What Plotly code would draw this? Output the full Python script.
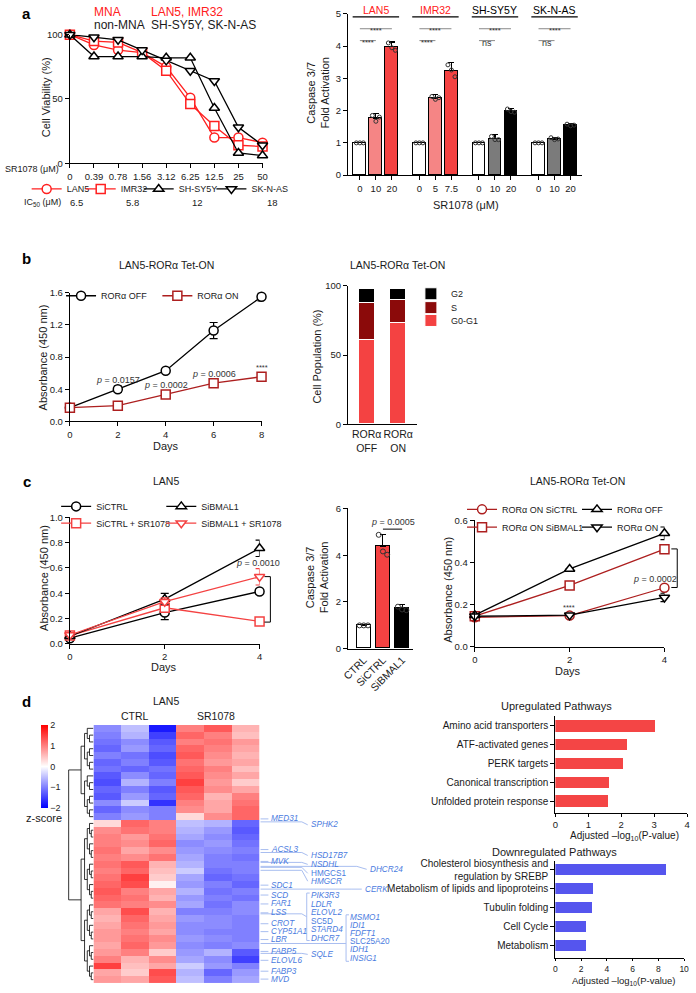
import plotly.graph_objects as go

W, H = 696, 993
FONT = "Liberation Sans, Arial, Helvetica, sans-serif"
TXT = "#1a1a1a"
RED = "#f44242"
LRED = "#f58585"
MNA_RED = "#ff2020"
DRED = "#ad1f1f"
SDARK = "#8b0a0a"
GREY = "#7b7b7b"
UP_RED = "#f44545"
DOWN_BLUE = "#5555ee"
GENE_BLUE = "#4a7be0"
LEAD_BLUE = "#a9bef0"

# ------------------------------------------------------------------ data
# a (left): cell viability
conc_labels = ["0", "0.39", "0.78", "1.56", "3.12", "6.25", "12.5", "25", "50"]
via_lan5 = [100, 92, 88, 86, 75, 51, 20, 20, 16]
via_imr32 = [100, 95, 94, 86, 72, 46, 29, 14, 13]
via_shsy5y = [100, 83, 83, 83, 82, 82, 43, 8, 6]
via_sknas = [100, 98, 96, 88, 80, 72, 64, 28, 14]
cell_lines = ["LAN5", "IMR32", "SH-SY5Y", "SK-N-AS"]
ic50_values = ["6.5", "5.8", "12", "18"]

# a (right): caspase 3/7
casp_groups = ["LAN5", "IMR32", "SH-SY5Y", "SK-N-AS"]
casp_doses = [["0", "10", "20"], ["0", "5", "7.5"], ["0", "10", "20"], ["0", "10", "20"]]
casp_mean = [[1.0, 1.77, 3.98], [1.0, 2.39, 3.24], [1.0, 1.13, 1.98], [1.0, 1.12, 1.55]]
casp_err = [[0, 0.15, 0.15], [0, 0.10, 0.24], [0, 0.12, 0.10], [0, 0.05, 0.05]]
casp_reps = [[[1, 1, 1], [1.85, 1.67, 1.80], [4.10, 3.95, 3.87]],
             [[1, 1, 1], [2.44, 2.35, 2.40], [3.42, 3.26, 3.05]],
             [[1, 1, 1], [1.20, 1.10, 1.10], [2.05, 1.97, 1.95]],
             [[1, 1, 1], [1.16, 1.10, 1.12], [1.58, 1.53, 1.55]]]
sig_top = ["****", "****", "****", "****"]
sig_low = ["****", "****", "ns", "ns"]

# b (left): growth
days_b = [0, 2, 4, 6, 8]
abs_off = [0.17, 0.40, 0.63, 1.13, 1.55]
abs_off_err = [0.02, 0.04, 0.02, 0.10, 0.05]
abs_on = [0.17, 0.195, 0.335, 0.475, 0.555]
abs_on_err = [0.02, 0.04, 0.02, 0.02, 0.04]
pvals_b = ["<i>p</i> = 0.0157", "<i>p</i> = 0.0002", "<i>p</i> = 0.0006", "****"]

# b (right): cell cycle
cc_groups = ["ROR\u03b1<br>OFF", "ROR\u03b1<br>ON"]
cc_g0g1 = [61, 73]
cc_s = [27, 17]
cc_g2 = [10, 8]

# c (left)
days_c = [0, 2, 4]
si_ctrl = [0.045, 0.247, 0.414]
si_ctrl_err = [0.01, 0.055, 0.02]
si_ctrl_sr = [0.065, 0.285, 0.177]
si_ctrl_sr_err = [0.01, 0.03, 0.01]
si_bmal = [0.06, 0.354, 0.755]
si_bmal_err = [0.01, 0.045, 0.065]
si_bmal_sr = [0.07, 0.333, 0.53]
si_bmal_sr_err = [0.01, 0.03, 0.065]

# c (middle)
casp_c_labels = ["CTRL", "SiCTRL", "SiBMAL1"]
casp_c = [1.0, 4.37, 1.71]
casp_c_err = [0.0, 0.5, 0.18]
casp_c_reps = [[1, 1, 1], [4.87, 4.16, 4.02], [1.80, 1.68, 1.65]]

# c (right)
ron_sictrl = [0.14, 0.148, 0.28]
ron_sibmal = [0.145, 0.291, 0.463]
roff = [0.15, 0.369, 0.538]
roff_err = [0.0, 0.0, 0.03]
ron = [0.145, 0.15, 0.234]
ron_err = [0.0, 0.0, 0.02]

# d heatmap (z-scores, rows top->bottom; columns CTRL x3, SR1078 x3)
heat_cols = ["CTRL 1", "CTRL 2", "CTRL 3", "SR1078 1", "SR1078 2", "SR1078 3"]
heat_z = [
    [-0.9, -0.5, -1.8, 1.0, 1.3, 0.6],
    [-1.0, -0.6, -1.5, 1.2, 1.0, 0.5],
    [-1.1, -0.9, -1.3, 1.0, 1.1, 0.8],
    [-1.2, -0.8, -1.2, 1.2, 1.0, 0.7],
    [-1.0, -1.1, -1.4, 1.3, 0.9, 0.6],
    [-1.2, -1.0, -1.3, 1.1, 0.8, 0.7],
    [-1.1, -1.2, -1.1, 1.2, 1.0, 0.5],
    [-1.3, -0.9, -1.2, 1.3, 0.9, 0.7],
    [-1.4, -0.6, -1.0, 1.5, 0.8, 0.4],
    [-1.2, -1.0, -1.3, 1.3, 0.9, 0.7],
    [-1.3, -0.8, -1.2, 1.2, 0.6, 1.0],
    [-0.9, -0.4, -1.6, 1.0, 0.7, 1.1],
    [-1.2, -0.9, -1.0, 0.9, 0.7, 1.2],
    [-1.0, -0.8, -1.0, 0.3, 0.9, 1.2],
    [0.3, 1.2, 1.0, -0.5, -0.6, -1.2],
    [0.9, 1.1, 1.0, -0.6, -0.8, -1.3],
    [1.0, 0.8, 1.1, -0.7, -0.9, -1.2],
    [1.0, 0.9, 1.2, -0.9, -0.8, -1.1],
    [1.1, 0.7, 0.9, -0.8, -0.9, -1.0],
    [1.0, 0.9, 1.1, -0.7, -1.0, -1.1],
    [1.1, 1.3, 0.6, -0.6, -1.0, -1.0],
    [1.0, 1.2, 0.5, -0.4, -1.1, -1.0],
    [1.1, 1.5, 0.4, -0.7, -1.2, -1.1],
    [1.2, 1.4, 0.1, -0.8, -1.0, -1.2],
    [1.3, 1.0, 0.7, -0.6, -1.1, -1.0],
    [1.2, 1.1, 0.6, -0.8, -1.0, -1.1],
    [1.1, 1.0, 0.9, -0.7, -1.1, -0.9],
    [0.7, 1.4, 0.6, -1.0, -1.0, -0.9],
    [0.6, 1.2, 0.7, -0.8, -0.9, -1.0],
    [0.7, 1.1, 0.8, -0.9, -0.9, -1.0],
    [0.8, 1.0, 0.7, -0.9, -1.0, -1.0],
    [0.8, 1.1, 0.9, -0.8, -0.9, -1.0],
    [0.7, 1.2, 0.8, -0.9, -1.0, -0.9],
    [0.8, 1.0, 0.4, -0.8, -0.6, -1.3],
    [1.0, 0.6, 0.9, -0.7, -0.9, -1.5],
    [1.5, 0.5, 0.7, -0.4, -0.8, -1.0],
    [0.7, 0.4, 1.4, -0.6, -1.2, -0.8],
    [0.8, 0.7, 1.3, -0.5, -1.0, -0.7],
]
TOP_N = 14
dendro_heights = [1.0, 0.5, 0.36, 0.25, 0.16, 0.09, 0.04, 0.02]

gene_col1 = ["MED31", "ACSL3", "MVK", "SDC1", "SCD", "FAR1", "LSS", "CROT", "CYP51A1", "LBR",
             "FABP5", "ELOVL6", "FABP3", "MVD"]
gene_col2 = ["SPHK2", "HSD17B7", "NSDHL", "HMGCS1", "HMGCR", "PIK3R3", "LDLR", "ELOVL2", "SC5D",
             "STARD4", "DHCR7", "SQLE"]
gene_col3 = ["DHCR24", "CERK", "MSMO1", "IDI1", "FDFT1", "SLC25A20", "IDH1", "INSIG1"]
upright_genes = {"HMGCS1", "SC5D", "SLC25A20"}

up_paths = ["Amino acid transporters", "ATF-activated genes", "PERK targets",
            "Canonical transcription", "Unfolded protein response"]
up_vals = [3.03, 2.2, 2.07, 1.64, 1.61]
down_paths = ["Cholesterol biosynthesis and<br>regulation by SREBP",
              "Metabolism of lipids and lipoproteins", "Tubulin folding", "Cell Cycle", "Metabolism"]
down_vals = [8.65, 2.95, 2.85, 2.44, 2.44]

# ------------------------------------------------------------------ layout positions (px)
gene_col1_y = [822, 853, 865, 889, 899, 908, 917, 928, 936, 944, 956, 965, 976, 984]
gene_col2_y = [828, 859, 868, 877, 885, 899.5, 908.5, 917, 925.5, 934, 942.5, 959]
gene_col2_src = {"SPHK2": 825, "HSD17B7": 856, "NSDHL": 866, "HMGCS1": 871, "HMGCR": 874, "SQLE": 958}
gene_col3_x = [368, 363, 348, 348, 348, 348, 348, 348]
gene_col3_y = [873, 893, 922, 930, 938, 946, 954, 963]
gene_col3_src = {"DHCR24": 870, "CERK": 893}


def dx(x0, x1):
    return [x0 / W, x1 / W]


def dy(y0, y1):
    return [1 - y1 / H, 1 - y0 / H]


fig = go.Figure()
annotations = []
shapes = []
legends = {}


def ann(x, y, text, size=10, color=TXT, xanchor="center", yanchor="middle", angle=0,
        xref="paper", yref="paper", pad=1):
    if xref == "paper":
        x = x / W
    if yref == "paper":
        y = 1 - y / H
    annotations.append(dict(x=x, y=y, xref=xref, yref=yref, text=text, showarrow=False,
                            xanchor=xanchor, yanchor=yanchor, textangle=angle, borderpad=pad,
                            font=dict(size=size, color=color, family=FONT)))


def line_px(x0, y0, x1, y1, color="black", width=1.0):
    shapes.append(dict(type="line", xref="paper", yref="paper", x0=x0 / W, y0=1 - y0 / H,
                       x1=x1 / W, y1=1 - y1 / H, line=dict(color=color, width=width)))


def path_px(pts, color, width=1.0):
    d = "M" + " L".join(f"{x / W:.5f},{1 - y / H:.5f}" for x, y in pts)
    shapes.append(dict(type="path", xref="paper", yref="paper", path=d,
                       line=dict(color=color, width=width)))


def leg(key, marker_x, y):
    legends[key] = dict(x=(marker_x - 25) / W, y=1 - y / H, xanchor="left", yanchor="middle",
                        orientation="h", bgcolor="rgba(0,0,0,0)", borderwidth=0, itemwidth=30,
                        font=dict(size=9, family=FONT, color=TXT),
                        itemclick=False, itemdoubleclick=False)


def axis(dom, rng, anchor, **kw):
    d = dict(domain=dom, range=rng, anchor=anchor, showline=True, linecolor="black",
             linewidth=1.2, ticks="outside", ticklen=4, tickwidth=1.2, tickcolor="black",
             showgrid=False, zeroline=False, fixedrange=True,
             tickfont=dict(size=9.5, family=FONT, color=TXT))
    d.update(kw)
    return d


def mk(symbol, color, size=9):
    return dict(symbol=symbol, color="white", size=size, line=dict(color=color, width=1.5))


# ------------------------------------------------------------------ panel a left
a_series = [(via_lan5, "circle", MNA_RED), (via_imr32, "square", MNA_RED),
            (via_shsy5y, "triangle-up", "black"), (via_sknas, "triangle-down", "black")]
a_leg_x = [45, 100, 159, 233]
for i, (vals, sym, col) in enumerate(a_series):
    key = "legend" if i == 0 else f"legend{i + 1}"
    fig.add_trace(go.Scatter(x=list(range(len(conc_labels))), y=vals, name=cell_lines[i],
                             mode="lines+markers", line=dict(color=col, width=1.3),
                             marker=mk(sym, col), cliponaxis=False, xaxis="x", yaxis="y",
                             legend=key, hoverinfo="skip"))
    leg(key, a_leg_x[i], 185)

ann(54, 165, "SR1078 (\u03bcM)", size=9, xanchor="right", pad=0)
ann(57, 199, "IC<sub>50</sub> (\u03bcM)", size=9, xanchor="right")
ic50_x = [71, 128, 194, 270]
for v, xp in zip(ic50_values, ic50_x):
    ann(xp, 199, v, size=9.5)
ann(40, 92, "Cell Viability (%)", size=11, angle=-90)
ann(86, 6, "MNA", size=12, color=MNA_RED, xanchor="left")
ann(144, 6, "LAN5, IMR32", size=12, color=MNA_RED, xanchor="left")
ann(86, 19, "non-MNA", size=12, xanchor="left")
ann(144, 19, "SH-SY5Y, SK-N-AS", size=12, xanchor="left")

# ------------------------------------------------------------------ panel a right
GROUP_STEP = 3.72
a_pos, a_lab, a_val, a_err, a_col = [], [], [], [], []
group_colors = [["white", LRED, RED], ["white", LRED, RED],
                ["white", GREY, "black"], ["white", GREY, "black"]]
for g in range(4):
    for j in range(3):
        a_pos.append(g * GROUP_STEP + j)
        a_lab.append(casp_doses[g][j])
        a_val.append(casp_mean[g][j])
        a_err.append(casp_err[g][j])
        a_col.append(group_colors[g][j])
fig.add_trace(go.Bar(x=a_pos, y=a_val, width=0.8, marker=dict(color=a_col, line=dict(color="black", width=1.1)),
                     error_y=dict(type="data", array=a_err, arrayminus=[0] * len(a_err), symmetric=False,
                                  color="black", thickness=1.1, width=3),
                     xaxis="x2", yaxis="y2", showlegend=False, hoverinfo="skip"))
rx, ry = [], []
for g in range(4):
    for j in range(3):
        for k, v in enumerate(casp_reps[g][j]):
            rx.append(g * GROUP_STEP + j + (k - 1) * 0.22)
            ry.append(v)
fig.add_trace(go.Scatter(x=rx, y=ry, mode="markers",
                         marker=dict(symbol="circle-open", size=4, color="#333", line=dict(width=1)),
                         xaxis="x2", yaxis="y2", showlegend=False, hoverinfo="skip", cliponaxis=False))
for g in range(4):
    p0 = g * GROUP_STEP
    col = MNA_RED if g < 2 else "black"
    annotations.append(dict(x=p0 + 1, y=1 - 4 / H, xref="x2", yref="paper", text=casp_groups[g],
                            showarrow=False, font=dict(size=10.5, color=col, family=FONT), yanchor="middle"))
    shapes.append(dict(type="line", xref="x2", yref="paper", x0=p0 - 0.45, x1=p0 + 2.45,
                       y0=1 - 11 / H, y1=1 - 11 / H, line=dict(color="black", width=1.3)))
    shapes.append(dict(type="line", xref="x2", yref="paper", x0=p0, x1=p0 + 2,
                       y0=1 - 23 / H, y1=1 - 23 / H, line=dict(color="#888", width=1)))
    shapes.append(dict(type="line", xref="x2", yref="paper", x0=p0, x1=p0 + 1,
                       y0=1 - 35 / H, y1=1 - 35 / H, line=dict(color="#888", width=1)))
    annotations.append(dict(x=p0 + 1, y=1 - 18 / H, xref="x2", yref="paper", text=sig_top[g],
                            showarrow=False, font=dict(size=7.5, color="#333", family=FONT)))
    annotations.append(dict(x=p0 + 0.5, y=1 - 30 / H, xref="x2", yref="paper", text=sig_low[g],
                            showarrow=False, font=dict(size=7.5 if sig_low[g] == "****" else 9,
                                                       color="#333", family=FONT)))
ann(316, 88, "Caspase 3/7<br>Fold Activation", size=11, angle=-90)
ann(467, 201, "SR1078 (\u03bcM)", size=11)

# ------------------------------------------------------------------ panel b left
fig.add_trace(go.Scatter(x=days_b, y=abs_off, name="ROR\u03b1 OFF", mode="lines+markers",
                         line=dict(color="black", width=1.3), marker=mk("circle", "black"),
                         error_y=dict(type="data", array=abs_off_err, color="black", thickness=1.2, width=4),
                         xaxis="x3", yaxis="y3", legend="legend5", cliponaxis=False, hoverinfo="skip"))
fig.add_trace(go.Scatter(x=days_b, y=abs_on, name="ROR\u03b1 ON", mode="lines+markers",
                         line=dict(color=DRED, width=1.3), marker=mk("square", DRED),
                         error_y=dict(type="data", array=abs_on_err, color=DRED, thickness=1.2, width=4),
                         xaxis="x3", yaxis="y3", legend="legend6", cliponaxis=False, hoverinfo="skip"))
leg("legend5", 80, 293)
leg("legend6", 178, 293)
ann(113, 378, pvals_b[0], size=9, color="#333")
ann(162, 383, pvals_b[1], size=9, color="#333")
ann(211, 372, pvals_b[2], size=9, color="#333")
ann(259, 366, pvals_b[3], size=7.5, color="#333")
ann(162, 262, "LAN5-ROR\u03b1 Tet-ON", size=10.5)
ann(37, 355, "Absorbance (450 nm)", size=11, angle=-90)
ann(162, 445, "Days", size=11)

# ------------------------------------------------------------------ panel b right
for vals, nm, col, key, yy in [(cc_g0g1, "G0-G1", RED, "legend9", 318),
                               (cc_s, "S", SDARK, "legend8", 305),
                               (cc_g2, "G2", "black", "legend7", 291)]:
    fig.add_trace(go.Bar(x=[0, 1], y=vals, name=nm, width=0.5,
                         marker=dict(color=col, line=dict(color="white", width=1)),
                         xaxis="x4", yaxis="y4", legend=key, hoverinfo="skip"))
    leg(key, 436, yy)
ann(397, 262, "LAN5-ROR\u03b1 Tet-ON", size=10.5)
ann(316, 355, "Cell Population (%)", size=11, angle=-90)

# ------------------------------------------------------------------ panel c left
c_series = [(si_ctrl, si_ctrl_err, "SiCTRL", "circle", "black", "legend10", 75, 506),
            (si_ctrl_sr, si_ctrl_sr_err, "SiCTRL + SR1078", "square", RED, "legend11", 75, 523),
            (si_bmal, si_bmal_err, "SiBMAL1", "triangle-up", "black", "legend12", 182, 506),
            (si_bmal_sr, si_bmal_sr_err, "SiBMAL1 + SR1078", "triangle-down", RED, "legend13", 182, 523)]
for vals, err, nm, sym, col, key, lx, ly in c_series:
    fig.add_trace(go.Scatter(x=days_c, y=vals, name=nm, mode="lines+markers",
                             line=dict(color=col, width=1.3), marker=mk(sym, col),
                             error_y=dict(type="data", array=err, color=col, thickness=1.2, width=4),
                             xaxis="x5", yaxis="y5", legend=key, cliponaxis=False, hoverinfo="skip"))
    leg(key, lx, ly)
ann(162, 480, "LAN5", size=10.5)
ann(37, 578, "Absorbance (450 nm)", size=11, angle=-90)
ann(160, 668, "Days", size=11)
ann(255, 563, "<i>p</i> = 0.0010", size=9, color="#333")
path_px([(262, 577), (268, 577), (268, 623), (262, 623)], "black", 1)

# ------------------------------------------------------------------ panel c middle
fig.add_trace(go.Bar(x=[0, 1, 2], y=casp_c, width=0.75,
                     marker=dict(color=["white", RED, "black"], line=dict(color="black", width=1.1)),
                     error_y=dict(type="data", array=casp_c_err, arrayminus=[0, 0, 0], symmetric=False,
                                  color="black", thickness=1.1, width=3),
                     xaxis="x6", yaxis="y6", showlegend=False, hoverinfo="skip"))
cx, cy = [], []
for i, reps in enumerate(casp_c_reps):
    for k, v in enumerate(reps):
        cx.append(i + (k - 1) * 0.22)
        cy.append(v)
fig.add_trace(go.Scatter(x=cx, y=cy, mode="markers",
                         marker=dict(symbol="circle-open", size=5, color="#333", line=dict(width=1)),
                         xaxis="x6", yaxis="y6", showlegend=False, hoverinfo="skip", cliponaxis=False))
annotations.append(dict(x=1.5, y=1 - 522 / H, xref="x6", yref="paper", text="<i>p</i> = 0.0005",
                        showarrow=False, font=dict(size=9, color="#333", family=FONT)))
shapes.append(dict(type="line", xref="x6", yref="paper", x0=1, x1=2, y0=1 - 529 / H, y1=1 - 529 / H,
                   line=dict(color="black", width=1)))
ann(315, 578, "Caspase 3/7<br>Fold Activation", size=11, angle=-90)

# ------------------------------------------------------------------ panel c right
cr_series = [(ron_sictrl, None, "ROR\u03b1 ON SiCTRL", "circle", DRED, "legend14", 488, 509),
             (ron_sibmal, None, "ROR\u03b1 ON SiBMAL1", "square", DRED, "legend15", 488, 527),
             (roff, roff_err, "ROR\u03b1 OFF", "triangle-up", "black", "legend16", 605, 509),
             (ron, ron_err, "ROR\u03b1 ON", "triangle-down", "black", "legend17", 605, 527)]
for vals, err, nm, sym, col, key, lx, ly in cr_series:
    tr = go.Scatter(x=days_c, y=vals, name=nm, mode="lines+markers",
                    line=dict(color=col, width=1.3), marker=mk(sym, col),
                    xaxis="x7", yaxis="y7", legend=key, cliponaxis=False, hoverinfo="skip")
    if err is not None:
        tr.error_y = dict(type="data", array=err, color=col, thickness=1.2, width=4)
    fig.add_trace(tr)
    leg(key, lx, ly)
ann(580, 480, "LAN5-ROR\u03b1 Tet-ON", size=10.5)
ann(449, 590, "Absorbance (450 nm)", size=11, angle=-90)
ann(571, 672, "Days", size=11)
ann(572, 608, "****", size=7.5, color="#333")
ann(659, 579, "<i>p</i> = 0.0002", size=9, color="#333")
path_px([(676, 549), (682, 549), (682, 588), (676, 588)], "black", 1)

# ------------------------------------------------------------------ panel d heatmap
n_rows = len(heat_z)
fig.add_trace(go.Heatmap(z=heat_z, x=list(range(len(heat_cols))), y=list(range(n_rows)),
                         zmin=-2, zmax=2,
                         colorscale=[[0, "#0000ff"], [0.5, "#ffffff"], [1, "#ff0000"]],
                         xaxis="x8", yaxis="y8", hoverinfo="skip",
                         colorbar=dict(x=35 / W, xanchor="left", y=1 - 727 / H, yanchor="top",
                                       len=84 / H, lenmode="fraction", thickness=7, thicknessmode="pixels",
                                       tickvals=[-2, -1, 0, 1, 2], ticks="", outlinewidth=0,
                                       xpad=0, ypad=0, tickfont=dict(size=9, family=FONT, color=TXT))))

dxs, dys = [], []


def build_dendro(lo, hi, depth):
    if hi - lo == 1:
        return lo, 0.0
    mid = TOP_N if depth == 0 else (lo + hi) // 2
    c1, h1 = build_dendro(lo, mid, depth + 1)
    c2, h2 = build_dendro(mid, hi, depth + 1)
    h = dendro_heights[depth]
    dxs.extend([h1, h, h, h2, None])
    dys.extend([c1, c1, c2, c2, None])
    return (c1 + c2) / 2, h


build_dendro(0, n_rows, 0)
fig.add_trace(go.Scatter(x=dxs, y=dys, mode="lines", line=dict(color="black", width=0.8),
                         xaxis="x9", yaxis="y9", showlegend=False, hoverinfo="skip", cliponaxis=False))

ann(20, 703, "<b>d</b>", size=15, color="black")
ann(162, 703, "LAN5", size=10.5)
ann(130, 718, "CTRL", size=10.5)
ann(213, 718, "SR1078", size=10.5)
ann(38, 821, "z-score", size=11)

GSIZE = 8.2
HM_R = 258
for name, yy in zip(gene_col1, gene_col1_y):
    line_px(HM_R, yy, 266, yy, LEAD_BLUE, 1)
    t = name if name in upright_genes else f"<i>{name}</i>"
    ann(268, yy, t, size=GSIZE, color=GENE_BLUE, xanchor="left", pad=0)
for name, yy in zip(gene_col2, gene_col2_y):
    if name in gene_col2_src:
        s = gene_col2_src[name]
        path_px([(HM_R, s), (300, s), (306, yy)], LEAD_BLUE, 1)
    t = name if name in upright_genes else f"<i>{name}</i>"
    ann(308, yy, t, size=GSIZE, color=GENE_BLUE, xanchor="left", pad=0)
for name, xx, yy in zip(gene_col3, gene_col3_x, gene_col3_y):
    if name in gene_col3_src:
        s = gene_col3_src[name]
        path_px([(HM_R, s), (xx - 12, s), (xx - 2, yy)], LEAD_BLUE, 1)
    t = name if name in upright_genes else f"<i>{name}</i>"
    ann(xx, yy, t, size=GSIZE, color=GENE_BLUE, xanchor="left", pad=0)
# brackets for gene groups
path_px([(HM_R, 918), (300, 918), (305, 921)], LEAD_BLUE, 1)
path_px([(308, 897), (305, 897), (305, 945), (308, 945)], LEAD_BLUE, 1)
line_px(HM_R, 948, 345, 948, LEAD_BLUE, 1)
path_px([(348, 919), (345, 919), (345, 966), (348, 966)], LEAD_BLUE, 1)

# ------------------------------------------------------------------ panel d bars
fig.add_trace(go.Bar(x=up_vals, y=up_paths, orientation="h", width=0.6,
                     marker=dict(color=UP_RED, line=dict(width=0)),
                     xaxis="x10", yaxis="y10", showlegend=False, hoverinfo="skip"))
fig.add_trace(go.Bar(x=down_vals, y=down_paths, orientation="h", width=0.62,
                     marker=dict(color=DOWN_BLUE, line=dict(width=0)),
                     xaxis="x11", yaxis="y11", showlegend=False, hoverinfo="skip"))
ann(559, 708, "Upregulated Pathways", size=11)
ann(557, 855, "Downregulated Pathways", size=11, pad=0)
ann(628, 839, "Adjusted \u2013log<sub>10</sub>(P-value)", size=10)
ann(628, 993, "Adjusted \u2013log<sub>10</sub>(P-value)", size=9.5, yanchor="bottom", pad=0)

# panel letters
ann(20, 8, "<b>a</b>", size=15, color="black")
ann(20, 255, "<b>b</b>", size=15, color="black")
ann(20, 481, "<b>c</b>", size=15, color="black")

# ------------------------------------------------------------------ axes
lay = dict(
    xaxis=axis(dx(64, 260), [0, 8], "y", tickvals=list(range(9)), ticktext=conc_labels),
    yaxis=axis(dy(29, 159), [0, 100], "x", tickvals=[0, 50, 100]),
    xaxis2=axis(dx(347, 585), [-0.74, 13.87], "y2", tickvals=a_pos, ticktext=a_lab),
    yaxis2=axis(dy(8, 171), [0, 5], "x2", tickvals=[0, 1, 2, 3, 4, 5]),
    xaxis3=axis(dx(64, 259), [0, 8], "y3", tickvals=[0, 2, 4, 6, 8]),
    yaxis3=axis(dy(290, 420), [0, 1.6], "x3", tickvals=[0, 0.4, 0.8, 1.2, 1.6],
                ticktext=["0.0", "0.4", "0.8", "1.2", "1.6"]),
    xaxis4=axis(dx(347, 417), [-0.59, 1.59], "y4", tickvals=[0, 1], ticktext=cc_groups, ticks="",
                tickfont=dict(size=10.5, family=FONT, color=TXT)),
    yaxis4=axis(dy(283, 423), [0, 100], "x4", tickvals=[0, 50, 100]),
    xaxis5=axis(dx(64, 257), [0, 4], "y5", tickvals=[0, 2, 4]),
    yaxis5=axis(dy(517, 645), [0, 1.0], "x5", tickvals=[0, 0.2, 0.4, 0.6, 0.8, 1.0],
                ticktext=["0.0", "0.2", "0.4", "0.6", "0.8", "1.0"]),
    xaxis6=axis(dx(347, 413), [-0.82, 2.56], "y6", tickvals=[0, 1, 2], ticktext=casp_c_labels,
                tickangle=-45, ticks="", tickfont=dict(size=10.5, family=FONT, color=TXT)),
    yaxis6=axis(dy(508, 650), [0, 6], "x6", tickvals=[0, 2, 4, 6]),
    xaxis7=axis(dx(476, 669), [0, 4], "y7", tickvals=[0, 2, 4]),
    yaxis7=axis(dy(520, 648), [0, 0.6], "x7", tickvals=[0, 0.2, 0.4, 0.6],
                ticktext=["0.0", "0.2", "0.4", "0.6"]),
    xaxis8=dict(domain=dx(88, 257), range=[-0.5, 5.5], anchor="y8", visible=False, fixedrange=True),
    yaxis8=dict(domain=dy(727, 988), range=[n_rows - 0.5, -0.5], anchor="x8", visible=False, fixedrange=True),
    xaxis9=dict(domain=dx(62, 88), range=[1.03, 0], anchor="y9", visible=False, fixedrange=True),
    yaxis9=dict(domain=dy(727, 988), range=[n_rows - 0.5, -0.5], anchor="x9", visible=False, fixedrange=True),
    xaxis10=axis(dx(558, 692), [0, 4], "y10", tickvals=[0, 1, 2, 3, 4], ticklen=3),
    yaxis10=axis(dy(718, 816), [4.63, -0.53], "x10", type="category", categoryorder="array",
                 categoryarray=up_paths, tickfont=dict(size=10, family=FONT, color=TXT)),
    xaxis11=axis(dx(558, 689), [0, 10], "y11", tickvals=[0, 2, 4, 6, 8, 10], ticklen=2,
                 tickfont=dict(size=8.5, family=FONT, color=TXT)),
    yaxis11=axis(dy(865, 963), [4.65, -0.45], "x11", type="category", categoryorder="array",
                 categoryarray=down_paths, tickfont=dict(size=10, family=FONT, color=TXT)),
)

fig.update_layout(
    width=W, height=H, margin=dict(l=0, r=0, t=0, b=0),
    paper_bgcolor="white", plot_bgcolor="white",
    font=dict(family=FONT, color=TXT),
    barmode="stack", bargap=0, showlegend=True,
    annotations=annotations, shapes=shapes,
    **lay, **legends,
)

fig.write_html("out.html", config={"displayModeBar": False},
               post_script="document.body.style.margin='0';")
